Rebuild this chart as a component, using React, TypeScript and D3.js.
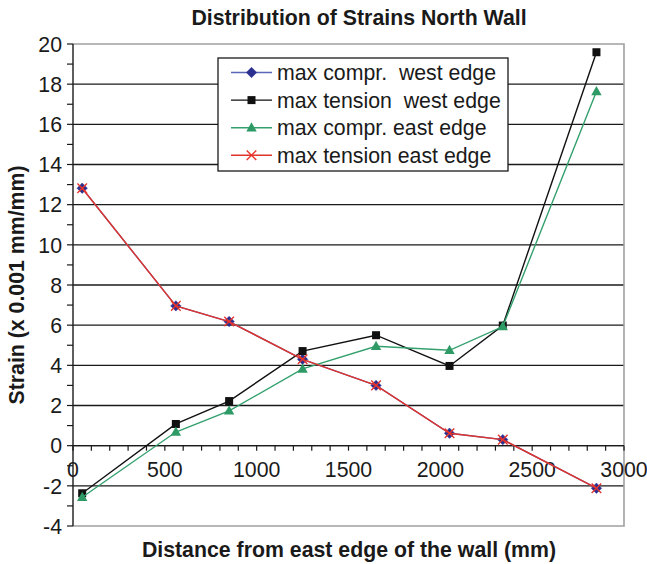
import React from "react";
import * as d3 from "d3";

const xPositions = [50, 560, 850, 1250, 1650, 2050, 2340, 2850];
const maxComprWest = [12.82, 6.96, 6.18, 4.3, 3.0, 0.62, 0.3, -2.12];
const maxTensionWest = [-2.37, 1.08, 2.22, 4.71, 5.5, 3.97, 5.98, 19.59];
const maxComprEast = [-2.57, 0.68, 1.73, 3.82, 4.95, 4.75, 5.93, 17.63];
const maxTensionEast = [12.82, 6.96, 6.18, 4.3, 3.0, 0.62, 0.3, -2.12];

const xTickLabels = [0, 500, 1000, 1500, 2000, 2500, 3000];
const yTickLabels = [-4, -2, 0, 2, 4, 6, 8, 10, 12, 14, 16, 18, 20];
const seriesNames = [
  "max compr.  west edge",
  "max tension  west edge",
  "max compr. east edge",
  "max tension east edge",
];

const W = 647;
const H = 564;
const L = 73;
const R = 624;
const T = 44;
const B = 526;
const FONT = "'Liberation Sans', Arial, Helvetica, sans-serif";
const FS = 21.3;

const x = d3.scaleLinear().domain([0, 3000]).range([L, R]);
const y = d3.scaleLinear().domain([-4, 20]).range([B, T]);

type Shape = "diamond" | "square" | "triangle" | "cross";

function Marker({ shape, cx, cy, color }: { shape: Shape; cx: number; cy: number; color: string }) {
  if (shape === "diamond") {
    const s = 5.2;
    return (
      <path d={`M${cx},${cy - s}L${cx + s},${cy}L${cx},${cy + s}L${cx - s},${cy}Z`} fill={color} stroke={color} strokeWidth={0.5} />
    );
  }
  if (shape === "square") {
    return <rect x={cx - 4} y={cy - 4} width={8} height={8} fill={color} />;
  }
  if (shape === "triangle") {
    return <path d={`M${cx},${cy - 5.5}L${cx + 5.2},${cy + 3.7}L${cx - 5.2},${cy + 3.7}Z`} fill={color} />;
  }
  const s = 4.8;
  return (
    <path d={`M${cx - s},${cy - s}L${cx + s},${cy + s}M${cx + s},${cy - s}L${cx - s},${cy + s}`} stroke={color} strokeWidth={1.4} fill="none" />
  );
}

const series = [
  { name: seriesNames[0], values: maxComprWest, line: "#5a66b8", marker: "#2b2f8f", shape: "diamond" as Shape },
  { name: seriesNames[1], values: maxTensionWest, line: "#111111", marker: "#111111", shape: "square" as Shape },
  { name: seriesNames[2], values: maxComprEast, line: "#33a06d", marker: "#2e9a66", shape: "triangle" as Shape },
  { name: seriesNames[3], values: maxTensionEast, line: "#e0332b", marker: "#e8352c", shape: "cross" as Shape },
];

export default function App() {
  const line = d3
    .line<number>()
    .x((_, i) => x(xPositions[i]))
    .y((d) => y(d));

  const gridVals = d3.range(-2, 20, 2);
  const yMinor = d3.range(-4, 21, 1);
  const xMinor = d3.range(0, 3001, 100);

  return (
    <svg width={W} height={H} style={{ position: "absolute", left: 0, top: 0, background: "#fff" }} fontFamily={FONT}>
      <rect x={0} y={0} width={W} height={H} fill="#fff" />
      {/* title */}
      <text x={359} y={25} textAnchor="middle" fontWeight="bold" fontSize={FS} fill="#1a1a1a">
        Distribution of Strains North Wall
      </text>
      {/* gridlines */}
      {gridVals.map((v) => (
        <line key={v} x1={L} x2={R} y1={y(v)} y2={y(v)} stroke="#1a1a1a" strokeWidth={1.3} />
      ))}
      {/* border */}
      <path d={`M${L},${T}H${R}V${B}H${L}`} fill="none" stroke="#a0a0a0" strokeWidth={1.6} />
      {/* y axis */}
      <line x1={L} x2={L} y1={T} y2={B} stroke="#1a1a1a" strokeWidth={1.4} />
      {yMinor.map((v) => (
        <line key={v} x1={L - 6} x2={L} y1={y(v)} y2={y(v)} stroke="#1a1a1a" strokeWidth={1.2} />
      ))}
      {yTickLabels.map((v) => (
        <text key={v} x={62} y={y(v)} dy="0.36em" textAnchor="end" fontSize={FS} fill="#1a1a1a">
          {v}
        </text>
      ))}
      {/* x axis at y=0 */}
      <line x1={L} x2={R} y1={y(0)} y2={y(0)} stroke="#1a1a1a" strokeWidth={1.4} />
      {xMinor.map((v) => (
        <line key={v} x1={x(v)} x2={x(v)} y1={y(0)} y2={y(0) + 5} stroke="#1a1a1a" strokeWidth={1.2} />
      ))}
      {xTickLabels.map((v) => (
        <text key={v} x={x(v)} y={477} textAnchor="middle" fontSize={FS} fill="#1a1a1a">
          {v}
        </text>
      ))}
      {/* series */}
      {series.map((s) => (
        <g key={s.name}>
          <path d={line(s.values) || ""} fill="none" stroke={s.line} strokeWidth={1.4} />
          {s.values.map((v, i) => (
            <Marker key={i} shape={s.shape} cx={x(xPositions[i])} cy={y(v)} color={s.marker} />
          ))}
        </g>
      ))}
      {/* legend */}
      <rect x={218} y={58} width={290} height={113} fill="#fff" stroke="#1a1a1a" strokeWidth={1.3} />
      {series.map((s, i) => {
        const ly = 72.5 + i * 27.6;
        return (
          <g key={s.name}>
            <line x1={231} x2={272} y1={ly} y2={ly} stroke={s.line} strokeWidth={1.4} />
            <Marker shape={s.shape} cx={251.5} cy={ly} color={s.marker} />
            <text x={277} y={ly} dy="0.36em" fontSize={FS} fill="#1a1a1a" style={{ whiteSpace: "pre" }}>
              {s.name}
            </text>
          </g>
        );
      })}
      {/* axis titles */}
      <text x={349} y={557} textAnchor="middle" fontWeight="bold" fontSize={FS} fill="#1a1a1a">
        Distance from east edge of the wall (mm)
      </text>
      <text
        transform={`translate(24,${(T + B) / 2}) rotate(-90)`}
        textAnchor="middle"
        fontWeight="bold"
        fontSize={FS}
        fill="#1a1a1a"
      >
        Strain (x 0.001 mm/mm)
      </text>
    </svg>
  );
}
